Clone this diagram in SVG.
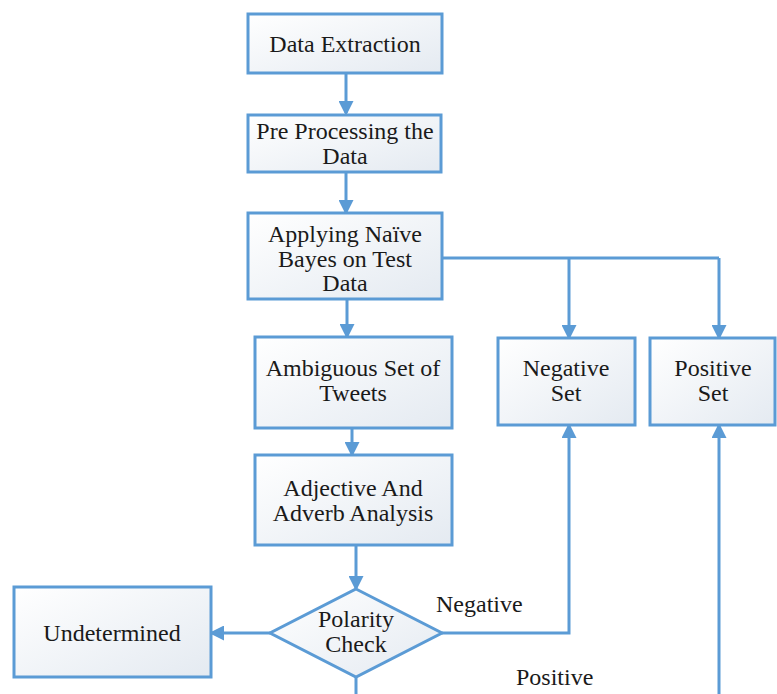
<svg xmlns="http://www.w3.org/2000/svg" width="777" height="694" viewBox="0 0 777 694">
<defs>
<linearGradient id="g" x1="0" y1="0" x2="1" y2="1">
<stop offset="0" stop-color="#ffffff"/>
<stop offset="1" stop-color="#e4eaf1"/>
</linearGradient>
<marker id="ah" markerWidth="5" markerHeight="5" refX="4" refY="2.5" orient="auto" markerUnits="strokeWidth">
<path d="M0,0 L5,2.5 L0,5 Z" fill="#5b9bd5"/>
</marker>
<style>
.box{fill:url(#g);stroke:#5b9bd5;stroke-width:3}
.t{font-family:"Liberation Serif","Times New Roman",serif;font-size:24px;fill:#1a1a1a;text-anchor:middle}
.l{font-family:"Liberation Serif","Times New Roman",serif;font-size:24px;fill:#1a1a1a}
.c{fill:none;stroke:#5b9bd5;stroke-width:3}
.a{marker-end:url(#ah)}
</style>
</defs>
<rect width="777" height="694" fill="#ffffff"/>
<g id="connectors">
<line class="c a" x1="346" y1="73" x2="346" y2="113"/>
<line class="c a" x1="346" y1="172" x2="346" y2="212"/>
<line class="c a" x1="347" y1="299" x2="347" y2="336"/>
<polyline class="c" points="442,258 719,258"/>
<line class="c a" x1="569" y1="258" x2="569" y2="337"/>
<line class="c a" x1="719" y1="258" x2="719" y2="337"/>
<line class="c a" x1="352" y1="428" x2="352" y2="454"/>
<line class="c a" x1="356" y1="545" x2="356" y2="588"/>
<line class="c a" x1="270" y1="633" x2="212" y2="633"/>
<polyline class="c a" points="442,633 569,633 569,426"/>
<line class="c" x1="356" y1="677" x2="356" y2="694"/>
<polyline class="c a" points="719,694 719,426"/>
<text class="l" x="436" y="612">Negative</text>
<text class="l" x="516" y="685">Positive</text>
</g>
<g id="data-extraction">
<rect class="box" x="248" y="14" width="194" height="59"/>
<text class="t" x="345" y="52">Data Extraction</text>
</g>
<g id="pre-processing">
<rect class="box" x="248" y="115" width="193" height="57"/>
<text class="t" x="345" y="139">Pre Processing the</text>
<text class="t" x="345" y="164">Data</text>
</g>
<g id="applying-naive-bayes">
<rect class="box" x="248" y="213" width="194" height="86"/>
<text class="t" x="345" y="242">Applying Naïve</text>
<text class="t" x="345" y="267">Bayes on Test</text>
<text class="t" x="345" y="291">Data</text>
</g>
<g id="ambiguous-set">
<rect class="box" x="255" y="337" width="197" height="91"/>
<text class="t" x="353" y="376">Ambiguous Set of</text>
<text class="t" x="353" y="401">Tweets</text>
</g>
<g id="negative-set">
<rect class="box" x="498" y="338" width="137" height="87"/>
<text class="t" x="566" y="376">Negative</text>
<text class="t" x="566" y="401">Set</text>
</g>
<g id="positive-set">
<rect class="box" x="650" y="338" width="125" height="87"/>
<text class="t" x="713" y="376">Positive</text>
<text class="t" x="713" y="401">Set</text>
</g>
<g id="adjective-adverb">
<rect class="box" x="255" y="455" width="197" height="90"/>
<text class="t" x="353" y="496">Adjective And</text>
<text class="t" x="353" y="521">Adverb Analysis</text>
</g>
<g id="polarity-check">
<polygon class="box" points="356,589 442,633 356,677 270,633"/>
<text class="t" x="356" y="627">Polarity</text>
<text class="t" x="356" y="652">Check</text>
</g>
<g id="undetermined">
<rect class="box" x="14" y="587" width="197" height="90"/>
<text class="t" x="112" y="641">Undetermined</text>
</g>
</svg>
